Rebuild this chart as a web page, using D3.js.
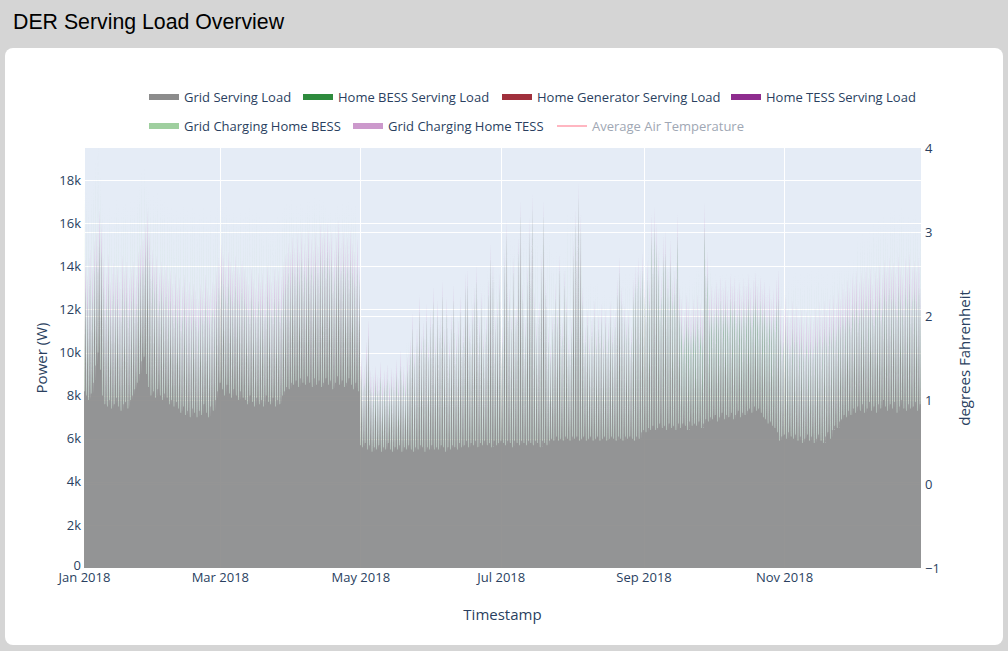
<!DOCTYPE html>
<html>
<head>
<meta charset="utf-8">
<script src="https://cdn.jsdelivr.net/npm/d3@7"></script>
<style>
  body { margin: 0; width: 1008px; height: 651px; background: #d5d5d5; overflow: hidden; }
  #hdr { position: absolute; left: 13px; top: 10px; font-family: "Liberation Sans", Arial, sans-serif; font-size: 21.3px; color: #000; }
  #card { position: absolute; left: 5px; top: 48px; width: 998px; height: 597px; background: #fff; border-radius: 8px; }
  #chart { position: absolute; left: 0; top: 0; }
</style>
</head>
<body>
<div id="hdr">DER Serving Load Overview</div>
<div id="card"></div>
<svg id="chart" width="1008" height="651"></svg>
<script>
// ===== DATA (kW) =====
// daily night-time floor of grid serving load, Jan 1 .. Dec 30 (one row = one week)
const floorKW = [
  8.2, 8.0, 7.8, 8.1, 8.6, 9.4, 10.0,
  9.2, 8.0, 7.6, 7.5, 7.8, 7.4, 7.6,
  7.9, 7.5, 7.3, 7.6, 7.7, 7.4, 7.8,
  8.0, 8.3, 8.6, 9.0, 9.6, 9.8, 9.0,
  8.4, 8.0, 8.2, 7.9, 8.3, 8.0, 7.8,
  8.1, 7.9, 7.6, 7.8, 7.5, 7.7, 7.4,
  7.2, 7.5, 7.1, 7.3, 7.0, 7.4, 7.2,
  7.0, 7.3, 7.1, 7.6, 7.2, 7.0, 7.5,
  7.3, 7.8, 8.2, 8.6, 8.3, 8.0, 8.5,
  8.1, 7.9, 8.3, 8.0, 7.8, 8.2, 7.9,
  7.8, 7.6, 8.0, 7.7, 7.5, 7.9, 7.6,
  7.8, 7.5, 8.0, 7.7, 7.6, 7.9, 7.5,
  7.8, 7.6, 8.0, 8.2, 8.4, 8.3, 8.6,
  8.5, 8.7, 8.4, 8.8, 8.6, 8.5, 8.9,
  8.6, 8.4, 8.8, 8.5, 8.7, 8.4, 8.6,
  8.8, 8.5, 8.7, 8.3, 8.6, 8.9, 8.5,
  8.7, 8.4, 8.6, 8.8, 8.5, 8.3, 8.6,
  8.2, 5.7, 5.6, 5.8, 5.5, 5.7, 5.4,
  5.6, 5.5, 5.7, 5.4, 5.6, 5.5, 5.8,
  5.5, 5.4, 5.6, 5.5, 5.7, 5.4, 5.6,
  5.5, 5.7, 5.5, 5.4, 5.6, 5.5, 5.7,
  5.6, 5.4, 5.6, 5.5, 5.7, 5.5, 5.6,
  5.5, 5.7, 5.6, 5.4, 5.6, 5.5, 5.7,
  5.6, 5.5, 5.8, 5.6, 5.7, 5.9, 5.6,
  5.8, 5.7, 5.9, 5.6, 5.8, 5.7, 5.9,
  5.7, 5.8, 5.6, 5.9, 5.7, 5.8, 5.9,
  5.8, 5.7, 5.9, 5.8, 5.6, 5.9, 5.8,
  5.7, 5.9, 5.8, 5.7, 5.9, 5.8, 5.7,
  5.9, 5.8, 5.6, 5.9, 5.8, 5.7, 5.9,
  6.0, 5.9, 6.1, 5.9, 6.0, 5.9, 6.1,
  6.0, 5.9, 6.1, 6.0, 6.1, 5.9, 6.0,
  6.1, 5.9, 6.0, 6.1, 5.9, 6.0, 6.1,
  5.9, 6.0, 6.1, 5.9, 6.0, 6.1, 6.0,
  5.9, 6.1, 6.0, 5.9, 6.1, 6.0, 6.1,
  6.0, 5.9, 6.1, 6.0, 6.3, 6.4, 6.3,
  6.5, 6.4, 6.6, 6.4, 6.5, 6.7, 6.5,
  6.6, 6.4, 6.7, 6.5, 6.6, 6.4, 6.7,
  6.5, 6.7, 6.6, 6.4, 6.8, 6.6, 6.7,
  6.6, 6.8, 6.5, 6.7, 6.9, 6.8, 7.0,
  6.9, 7.1, 6.8, 7.0, 7.2, 6.9, 7.1,
  7.0, 7.2, 6.9, 7.1, 7.3, 7.0, 7.2,
  7.1, 7.3, 7.4, 7.2, 7.5, 7.3, 7.4,
  7.2, 7.0, 6.9, 6.7, 6.8, 6.6, 6.5,
  6.3, 5.9, 6.1, 6.2, 6.0, 6.3, 6.1,
  6.0, 6.2, 5.9, 6.1, 5.8, 6.0, 6.2,
  5.9, 6.1, 5.8, 6.0, 6.2, 5.9, 5.8,
  6.1, 6.3, 6.0, 6.4, 6.6, 6.5, 6.8,
  6.9, 7.1, 7.0, 7.3, 7.1, 7.4, 7.2,
  7.5, 7.3, 7.6, 7.2, 7.4, 7.7, 7.3,
  7.5, 7.2, 7.6, 7.4, 7.8, 7.5, 7.3,
  7.6, 7.4, 7.7, 7.2, 7.5, 7.8, 7.4,
  7.3, 7.6, 7.4, 7.5, 7.7, 7.3, 7.6
];

// daily peak of grid serving load
const peakKW = [
  12.5, 11.8, 13.0, 12.2, 13.4, 13.8, 14.8,
  14.2, 12.6, 11.9, 12.8, 11.5, 12.4, 11.8,
  12.1, 11.4, 12.6, 11.9, 12.3, 11.6, 12.0,
  12.4, 11.8, 12.9, 13.2, 13.6, 14.2, 14.8,
  13.9, 13.1, 12.4, 12.8, 12.0, 12.5, 11.9,
  12.3, 11.6, 12.0, 11.4, 11.9, 11.2, 11.7,
  11.3, 11.8, 11.0, 11.5, 10.9, 11.4, 11.1,
  10.8, 11.5, 11.2, 11.9, 11.3, 11.0, 11.6,
  11.4, 12.0, 12.6, 13.2, 12.8, 12.2, 12.9,
  12.4, 12.0, 12.7, 12.2, 11.9, 12.5, 12.1,
  11.8, 11.5, 12.2, 11.7, 11.3, 12.0, 11.6,
  11.9, 11.4, 12.3, 11.8, 11.5, 12.1, 11.6,
  12.0, 11.7, 12.4, 12.8, 13.3, 12.9, 13.6,
  13.2, 13.8, 13.0, 13.9, 13.4, 13.1, 14.0,
  13.5, 13.0, 13.8, 13.3, 14.2, 13.6, 13.9,
  14.3, 13.5, 13.9, 13.1, 13.7, 14.4, 13.4,
  13.8, 13.2, 13.6, 13.9, 13.3, 12.9, 13.5,
  13.0, 8.6, 8.2, 9.4, 10.4, 8.0, 7.8,
  8.3, 7.9, 8.5, 7.7, 8.1, 8.4, 7.6,
  8.2, 8.0, 8.6, 7.8, 9.0, 8.3, 7.9,
  8.8, 9.6, 10.8, 9.2, 10.1, 11.6, 9.8,
  10.4, 11.2, 9.5, 10.9, 12.0, 9.8, 11.4,
  10.6, 12.3, 10.1, 11.5, 9.6, 10.8, 12.1,
  9.9, 10.5, 11.6, 10.2, 12.6, 12.8, 10.4,
  11.2, 12.0, 13.0, 10.6, 11.8, 9.9, 10.7,
  12.4, 14.0, 13.2, 10.8, 11.5, 12.6, 10.2,
  13.8, 15.1, 12.0, 10.8, 13.4, 11.2, 14.3,
  16.0, 12.2, 10.6, 13.0, 15.2, 16.3, 11.8,
  10.4, 11.4, 13.6, 16.0, 12.4, 10.2, 9.4,
  10.8, 12.2, 11.0, 13.5, 10.4, 12.8, 11.6,
  9.8, 10.6, 14.2, 15.6, 16.8, 15.4, 12.0,
  10.2, 11.0, 9.8, 10.6, 11.4, 10.0, 10.8,
  11.2, 9.9, 11.0, 10.4, 11.3, 10.2, 10.9,
  12.4, 13.4, 12.0, 11.2, 10.5, 11.0, 10.2,
  12.0, 12.6, 13.0, 12.4, 13.2, 12.0, 12.8,
  11.6, 14.6, 14.9, 14.2, 13.0, 11.8, 13.6,
  13.8, 12.2, 13.4, 11.6, 12.0, 14.6, 11.2,
  10.4, 9.8, 10.6, 10.2, 9.9, 10.4, 10.0,
  10.6, 10.2, 9.8, 14.8, 12.6, 10.6, 11.0,
  10.8, 11.2, 10.8, 11.4, 10.9, 11.3, 10.7,
  11.5, 11.0, 11.4, 10.8, 11.2, 10.6, 11.3,
  11.0, 11.5, 10.9, 11.3, 11.6, 11.0, 11.4,
  10.8, 11.2, 10.6, 11.0, 10.4, 10.8, 11.3,
  11.8, 10.2, 9.8, 10.6, 10.0, 9.6, 10.4,
  9.9, 10.3, 9.7, 10.1, 9.5, 10.0, 9.4,
  9.9, 9.6, 10.2, 9.8, 10.4, 9.9, 10.5,
  10.1, 10.6, 10.2, 10.8, 10.4, 11.0, 10.6,
  11.2, 10.8, 11.4, 11.0, 11.6, 11.2, 11.8,
  11.3, 11.7, 11.4, 12.0, 11.5, 11.9, 11.2,
  11.8, 11.5, 12.1, 11.6, 12.3, 11.8, 12.4,
  11.9, 12.2, 11.7, 12.5, 12.0, 11.6, 12.4,
  11.9, 12.6, 12.0, 12.3, 11.8, 12.4, 13.2
];

// weekly values (52 weeks)
const bessChargeKW = [
  9.5, 9.0, 9.3, 8.8, 9.2, 9.0, 9.4, 9.2, 8.6, 8.4, 8.8, 8.2, 8.6,
  8.2, 8.5, 8.0, 8.3, 4.0, 3.5, 3.8, 5.0, 5.8, 6.2, 6.8, 7.5, 8.2,
  9.5, 10.2, 9.8, 8.6, 10.5, 7.2, 6.8, 7.6, 7.8, 8.6, 8.2, 6.8, 7.4,
  6.6, 6.5, 6.4, 6.3, 7.2, 7.6, 7.8, 7.4, 7.0, 8.0, 8.6, 9.0, 8.8
];
const tessChargeKW = [
  1.4, 1.4, 1.5, 1.4, 1.3, 1.4, 1.4, 1.3, 1.4, 1.4, 1.3, 1.4, 1.4,
  1.3, 1.4, 1.3, 1.4, 0.8, 0.7, 0.7, 0.7, 0.7, 0.7, 0.7, 0.7, 0.7,
  0.7, 0.7, 0.7, 0.7, 0.7, 0.7, 0.7, 0.7, 0.8, 1.0, 1.0, 1.1, 1.1,
  1.1, 1.1, 1.1, 1.1, 1.3, 1.3, 1.3, 1.3, 1.4, 1.4, 1.4, 1.4, 1.4
];
const bessServeKW = [
  0.5, 0.5, 0.5, 0.5, 0.5, 0.5, 0.5, 0.5, 0.5, 0.5, 0.5, 0.5, 0.5,
  0.5, 0.5, 0.5, 0.5, 0.4, 0.4, 0.4, 0.4, 0.4, 0.4, 0.4, 0.4, 0.4,
  0.4, 0.4, 0.4, 0.4, 0.4, 0.4, 0.4, 0.4, 0.7, 0.9, 0.9, 1.1, 1.1,
  1.1, 1.1, 1.1, 1.1, 0.8, 0.7, 0.7, 0.7, 0.7, 0.7, 0.7, 0.7, 0.7
];

const seriesNames = [
  "Grid Serving Load", "Home BESS Serving Load", "Home Generator Serving Load",
  "Home TESS Serving Load", "Grid Charging Home BESS", "Grid Charging Home TESS"
];
const seriesColors = ["#8c8c8c", "#2e8b3d", "#a0303c", "#8e2c8e", "#9fcf9f", "#cc99cc"];
const seriesOpacity = [0.92, 0.9, 0.9, 0.9, 0.55, 0.9];
const tempName = "Average Air Temperature";
const leftTicks = [0, 2000, 4000, 6000, 8000, 10000, 12000, 14000, 16000, 18000];
const rightTicks = [-1, 0, 1, 2, 3, 4];

// ===== LAYOUT =====
const svg = d3.select("#chart");
const plot = { left: 84, right: 921, top: 148, bottom: 568 };
const font = '"Open Sans", sans-serif';
const textColor = "#2a3f5f";

const t0 = Date.UTC(2018, 0, 1);
const x = d3.scaleUtc()
  .domain([new Date(t0), new Date(t0 + 363.5 * 864e5)])
  .range([plot.left, plot.right]);
const y = d3.scaleLinear().domain([0, 19490]).range([plot.bottom, plot.top]);
const y2 = d3.scaleLinear().domain([-1, 4]).range([plot.bottom, plot.top]);

// rows: per day a short night charging point and an evening peak point
const keys = ["grid", "bessServe", "genServe", "tessServe", "bessCharge", "tessCharge"];
const rows = [];
floorKW.forEach((f, d) => {
  const w = Math.min(Math.floor(d / 7), bessChargeKW.length - 1);
  const at = h => new Date(t0 + (d * 24 + h) * 36e5);
  const base = { grid: f * 1000, bessServe: 0, genServe: 0, tessServe: 0, bessCharge: 0, tessCharge: 0 };
  rows.push({ t: at(0), ...base });
  rows.push({ t: at(2), ...base, bessCharge: bessChargeKW[w] * 1000 });
  rows.push({ t: at(4), ...base });
  rows.push({ t: at(15), ...base, grid: peakKW[d] * 1000,
    bessServe: bessServeKW[w] * 1000, tessCharge: tessChargeKW[w] * 1000 });
  rows.push({ t: at(23), ...base });
});
const stacked = d3.stack().keys(keys)(rows);

// background
svg.append("rect")
  .attr("x", plot.left).attr("y", plot.top)
  .attr("width", plot.right - plot.left).attr("height", plot.bottom - plot.top)
  .attr("fill", "#e5ecf6");

// grid lines
const grid = svg.append("g").attr("stroke", "#fff").attr("stroke-width", 1);
grid.selectAll(".gx").data(x.ticks(d3.utcMonth.every(2))).join("line")
  .attr("x1", d => Math.round(x(d)) + 0.5).attr("x2", d => Math.round(x(d)) + 0.5)
  .attr("y1", plot.top).attr("y2", plot.bottom);
grid.selectAll(".gy").data(leftTicks.filter(v => v > 0)).join("line")
  .attr("x1", plot.left).attr("x2", plot.right)
  .attr("y1", d => Math.round(y(d)) + 0.5).attr("y2", d => Math.round(y(d)) + 0.5);
grid.selectAll(".gy2").data(rightTicks.filter(v => v > -1 && v < 4)).join("line")
  .attr("x1", plot.left).attr("x2", plot.right)
  .attr("y1", d => Math.round(y2(d)) + 0.5).attr("y2", d => Math.round(y2(d)) + 0.5);

// stacked areas
svg.append("clipPath").attr("id", "clip").append("rect")
  .attr("x", plot.left).attr("y", plot.top)
  .attr("width", plot.right - plot.left).attr("height", plot.bottom - plot.top);
const area = d3.area()
  .x(d => x(d.data.t))
  .y0(d => y(d[0]))
  .y1(d => y(d[1]));
svg.append("g").attr("clip-path", "url(#clip)")
  .selectAll("path").data(stacked).join("path")
  .attr("d", area)
  .attr("fill", (d, i) => seriesColors[i])
  .attr("fill-opacity", (d, i) => seriesOpacity[i])
  .attr("stroke", "none");

// axes
const xAxis = svg.append("g").attr("transform", `translate(0,${plot.bottom})`)
  .call(d3.axisBottom(x).ticks(d3.utcMonth.every(2)).tickFormat(d3.utcFormat("%b %Y")).tickSize(0).tickPadding(5));
const yAxis = svg.append("g").attr("transform", `translate(${plot.left},0)`)
  .call(d3.axisLeft(y).tickValues(leftTicks).tickFormat(v => v === 0 ? "0" : v / 1000 + "k").tickSize(0).tickPadding(3));
const y2Axis = svg.append("g").attr("transform", `translate(${plot.right},0)`)
  .call(d3.axisRight(y2).tickValues(rightTicks).tickFormat(v => v < 0 ? "\u2212" + (-v) : String(v)).tickSize(0).tickPadding(4));
[xAxis, yAxis, y2Axis].forEach(g => {
  g.select(".domain").remove();
  g.selectAll("text").attr("fill", textColor).style("font-family", font).style("font-size", "13px");
});
// the zero label sits just above the date labels, as in the original
yAxis.selectAll(".tick").filter(v => v === 0).select("text").attr("dy", "0.1em");

// axis titles
svg.append("text").attr("x", (plot.left + plot.right) / 2).attr("y", 620)
  .attr("text-anchor", "middle").attr("fill", textColor)
  .style("font-family", font).style("font-size", "15px").text("Timestamp");
svg.append("text").attr("transform", `translate(47,${(plot.top + plot.bottom) / 2}) rotate(-90)`)
  .attr("text-anchor", "middle").attr("fill", textColor)
  .style("font-family", font).style("font-size", "15px").text("Power (W)");
svg.append("text").attr("transform", `translate(970,${(plot.top + plot.bottom) / 2}) rotate(-90)`)
  .attr("text-anchor", "middle").attr("fill", textColor)
  .style("font-family", font).style("font-size", "15px").text("degrees Fahrenheit");

// legend
const legendItems = [
  { name: seriesNames[0], color: seriesColors[0], x: 149, y: 97 },
  { name: seriesNames[1], color: seriesColors[1], x: 303, y: 97 },
  { name: seriesNames[2], color: seriesColors[2], x: 502, y: 97 },
  { name: seriesNames[3], color: seriesColors[3], x: 731, y: 97 },
  { name: seriesNames[4], color: seriesColors[4], x: 149, y: 126 },
  { name: seriesNames[5], color: seriesColors[5], x: 353, y: 126 },
  { name: tempName, color: "#ffb6c1", x: 557, y: 126, line: true }
];
const leg = svg.append("g").selectAll("g").data(legendItems).join("g")
  .attr("transform", d => `translate(${d.x},${d.y})`);
leg.append("rect")
  .attr("x", 0).attr("width", 30)
  .attr("y", d => d.line ? -1 : -3).attr("height", d => d.line ? 2 : 6)
  .attr("fill", d => d.color);
leg.append("text").attr("x", 35).attr("dy", "0.35em")
  .attr("fill", d => d.line ? "#a0a7b4" : textColor)
  .style("font-family", font).style("font-size", "13px")
  .text(d => d.name);
</script>
</body>
</html>
